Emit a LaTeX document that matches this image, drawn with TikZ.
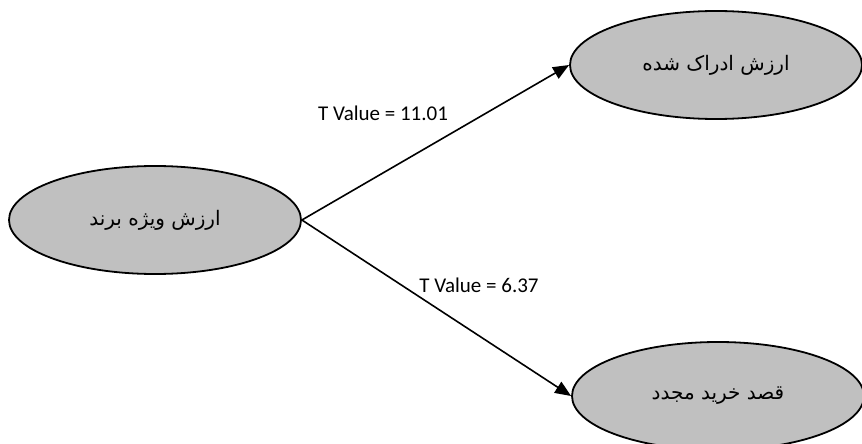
\documentclass[tikz,border=0pt]{standalone}
\usepackage{fontspec}
\setmainfont{Carlito}
\newfontfamily\persianfont[Script=Arabic]{DejaVu Sans}
\TeXXeTstate=1
\usetikzlibrary{shapes.geometric,arrows.meta}

\definecolor{ovalgray}{RGB}{192,192,192}
\tikzset{
    oval/.style={ellipse, draw, line width=.9pt, fill=ovalgray, inner sep=0pt,
        minimum width=146pt, minimum height=54pt,
        font=\persianfont\fontsize{10}{12}\selectfont},
    effect/.style={-{Triangle[length=8pt, width=6.5pt]}, line width=.8pt},
    tvalue/.style={font=\fontsize{10.5}{12}\selectfont}
}

\begin{document}
\begin{tikzpicture}[x=.5pt, y=-.5pt]

\useasboundingbox (0,0) rectangle (862,444);

\node[oval] (equity) at (155, 220) {\beginR ارزش ویژه برند\endR};
\node[oval] (value) at (716, 65) {\beginR ارزش ادراک شده\endR};
\node[oval] (intent) at (718, 396) {\beginR قصد خرید مجدد\endR};

\draw[effect] (equity.east) -- (value.west);
\draw[effect] (equity.east) -- (intent.west);

\node[tvalue] (tval1) at (383, 113) {T Value = 11.01};
\node[tvalue] (tval2) at (479, 285) {T Value = 6.37};

\end{tikzpicture}
\end{document}
